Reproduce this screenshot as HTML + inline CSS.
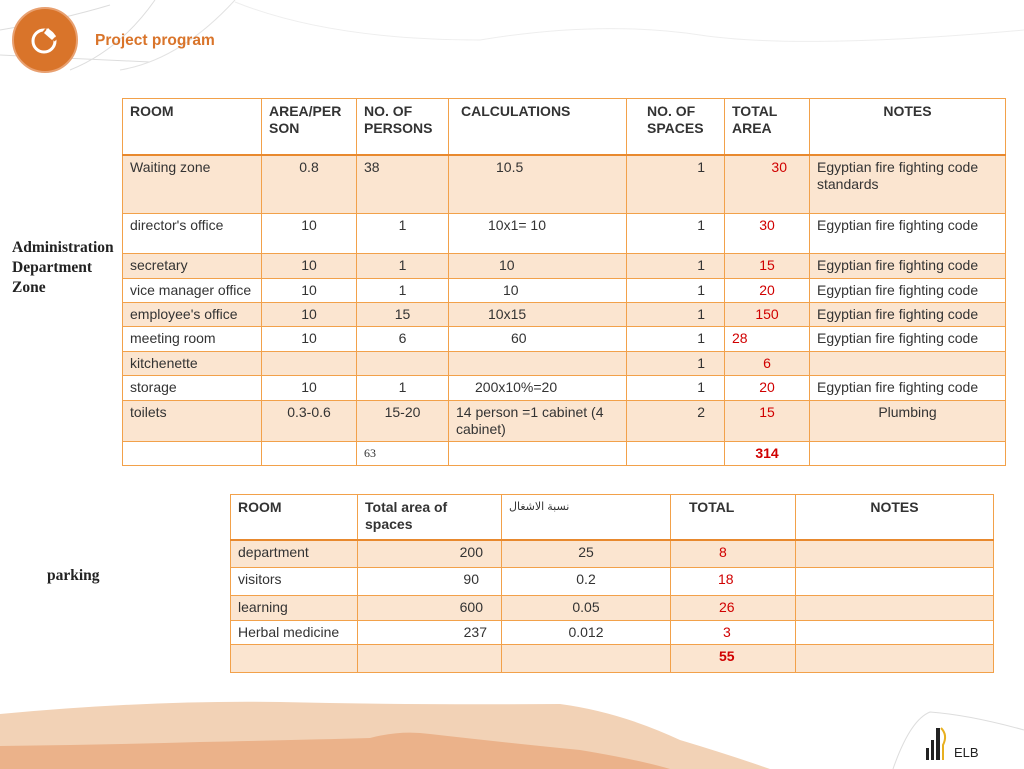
<!DOCTYPE html>
<html><head><meta charset="utf-8"><style>
body{margin:0;width:1024px;height:769px;position:relative;overflow:hidden;background:#fff;font-family:"Liberation Sans",Arial,sans-serif;color:#333}
table{position:absolute;border-collapse:collapse;table-layout:fixed;font-size:14px}
td{border:1px solid #F2A14A;vertical-align:top;padding:3px 7px 0 7px;line-height:17px;overflow:hidden;white-space:nowrap}
tr.h td{font-weight:bold;border-bottom:2px solid #E8892E;padding-top:4px}
tr.s td{background:#FBE5D0}
.c{text-align:center}.r{text-align:right}
.red{color:#D00000}
.side{position:absolute;font-family:"Liberation Serif",serif;font-weight:bold;font-size:15.5px;color:#222;line-height:20px}
</style></head><body>
<svg width="1024" height="769" style="position:absolute;left:0;top:0">
<path d="M0 30 Q60 20 110 5" stroke="#ddd" fill="none"/>
<path d="M0 55 Q70 58 150 62" stroke="#ddd" fill="none"/>
<path d="M155 0 Q120 50 70 70" stroke="#ddd" fill="none"/>
<path d="M235 0 Q180 60 120 70" stroke="#e2e2e2" fill="none"/>
<path d="M235 2 Q330 40 480 40 Q600 20 700 35 Q800 50 1024 30" stroke="#eee" fill="none"/>
<path d="M0 714 Q150 700 280 702 Q400 705 560 704 Q620 712 680 740 Q730 755 770 769 L0 769Z" fill="#F2D2B6"/>
<path d="M0 746 Q100 745 200 742 Q300 740 370 738 Q400 730 430 734 Q500 742 580 750 Q640 760 670 769 L0 769Z" fill="#EBB28A"/>
<path d="M893 769 Q910 720 930 712 Q970 715 1024 730" stroke="#ddd" fill="none"/>
<circle cx="45" cy="40" r="32" fill="#D9742A" stroke="#E8A070" stroke-width="2"/>
<circle cx="44" cy="41" r="11" fill="none" stroke="#fff" stroke-width="3"/>
<path d="M44 30 L56 40" stroke="#D9742A" stroke-width="4"/>
<path d="M44 33 L48 28 L56 36 L52 40Z" fill="#fff"/>
<rect x="931" y="740" width="3" height="20" fill="#222"/><rect x="936" y="728" width="4" height="32" fill="#222"/><rect x="926" y="748" width="3" height="12" fill="#222"/>
<path d="M941 728 Q948 735 943 745 L943 760" stroke="#E8B020" stroke-width="2" fill="none"/>
<text x="954" y="757" font-family="Liberation Sans" font-size="13" fill="#222">ELB</text>
</svg>
<div style="position:absolute;left:95px;top:32px;font-weight:bold;font-size:15.5px;color:#D9742A">Project program</div>
<div class="side" style="left:12px;top:238px">Administration<br>Department<br>Zone</div>
<div class="side" style="left:47px;top:566px">parking</div>

<table style="left:122px;top:98px;width:883px">
<colgroup><col style="width:139px"><col style="width:95px"><col style="width:92px"><col style="width:178px"><col style="width:98px"><col style="width:85px"><col style="width:196px"></colgroup>
<tr class="h" style="height:56px"><td>ROOM</td><td>AREA/PER<br>SON</td><td>NO. OF<br>PERSONS</td><td style="padding-left:12px">CALCULATIONS</td><td style="padding-left:20px">NO. OF<br>SPACES</td><td>TOTAL<br>AREA</td><td class="c">NOTES</td></tr>
<tr class="s" style="height:59px"><td>Waiting zone</td><td class="c">0.8</td><td>38</td><td style="padding-left:47px">10.5</td><td class="r" style="padding-right:19px">1</td><td class="r red" style="padding-right:22px">30</td><td>Egyptian fire fighting code<br>standards</td></tr>
<tr style="height:40px"><td>director's office</td><td class="c">10</td><td class="c">1</td><td style="padding-left:39px">10x1= 10</td><td class="r" style="padding-right:19px">1</td><td class="c red">30</td><td>Egyptian fire fighting code</td></tr>
<tr class="s" style="height:25px"><td>secretary</td><td class="c">10</td><td class="c">1</td><td style="padding-left:50px">10</td><td class="r" style="padding-right:19px">1</td><td class="c red">15</td><td>Egyptian fire fighting code</td></tr>
<tr style="height:24px"><td>vice manager office</td><td class="c">10</td><td class="c">1</td><td style="padding-left:54px">10</td><td class="r" style="padding-right:19px">1</td><td class="c red">20</td><td>Egyptian fire fighting code</td></tr>
<tr class="s" style="height:24px"><td>employee's office</td><td class="c">10</td><td class="c">15</td><td style="padding-left:39px">10x15</td><td class="r" style="padding-right:19px">1</td><td class="c red">150</td><td>Egyptian fire fighting code</td></tr>
<tr style="height:25px"><td>meeting room</td><td class="c">10</td><td class="c">6</td><td style="padding-left:62px">60</td><td class="r" style="padding-right:19px">1</td><td class="red">28</td><td>Egyptian fire fighting code</td></tr>
<tr class="s" style="height:24px"><td>kitchenette</td><td></td><td></td><td></td><td class="r" style="padding-right:19px">1</td><td class="c red">6</td><td></td></tr>
<tr style="height:25px"><td>storage</td><td class="c">10</td><td class="c">1</td><td style="padding-left:26px">200x10%=20</td><td class="r" style="padding-right:19px">1</td><td class="c red">20</td><td>Egyptian fire fighting code</td></tr>
<tr class="s" style="height:41px"><td>toilets</td><td class="c">0.3-0.6</td><td class="c">15-20</td><td style="white-space:normal">14 person =1 cabinet (4 cabinet)</td><td class="r" style="padding-right:19px">2</td><td class="c red">15</td><td class="c">Plumbing</td></tr>
<tr style="height:24px"><td></td><td></td><td style="font-family:'Liberation Serif',serif;font-size:12px">63</td><td></td><td></td><td class="c red" style="font-weight:bold">314</td><td></td></tr>
</table>

<table style="left:230px;top:494px;width:763px">
<colgroup><col style="width:127px"><col style="width:144px"><col style="width:169px"><col style="width:125px"><col style="width:198px"></colgroup>
<tr class="h" style="height:45px"><td>ROOM</td><td>Total area of<br>spaces</td><td style="font-weight:normal;font-size:11px;font-family:'Liberation Sans','DejaVu Sans',sans-serif">نسبة الاشغال</td><td style="padding-left:18px">TOTAL</td><td class="c">NOTES</td></tr>
<tr class="s" style="height:28px"><td>department</td><td class="r" style="padding-right:18px">200</td><td class="c">25</td><td style="padding-left:48px" class="red">8</td><td></td></tr>
<tr style="height:28px"><td>visitors</td><td class="r" style="padding-right:22px">90</td><td class="c">0.2</td><td style="padding-left:47px" class="red">18</td><td></td></tr>
<tr class="s" style="height:25px"><td>learning</td><td class="r" style="padding-right:18px">600</td><td class="c">0.05</td><td style="padding-left:48px" class="red">26</td><td></td></tr>
<tr style="height:24px"><td>Herbal medicine</td><td class="r" style="padding-right:14px">237</td><td class="c">0.012</td><td style="padding-left:52px" class="red">3</td><td></td></tr>
<tr class="s" style="height:28px"><td></td><td></td><td></td><td style="padding-left:48px;font-weight:bold" class="red">55</td><td></td></tr>
</table>
</body></html>
